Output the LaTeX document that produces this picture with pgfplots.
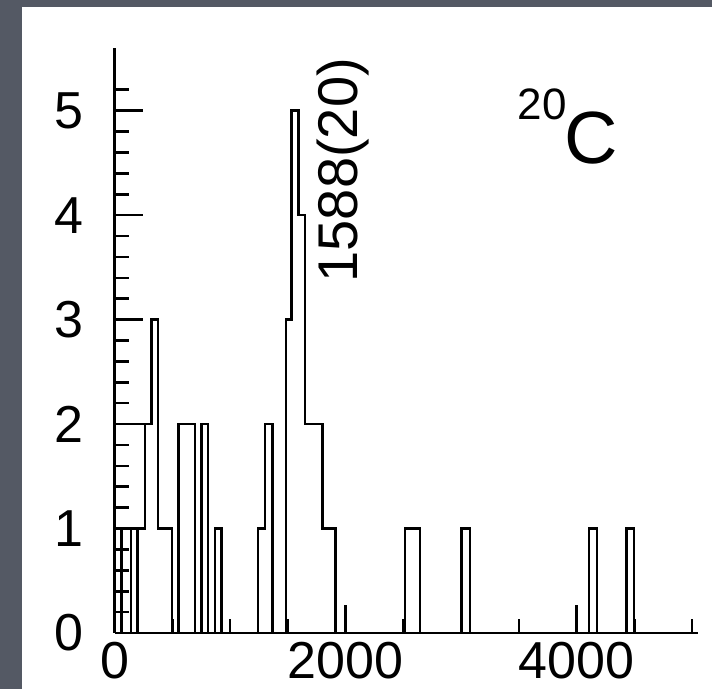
\documentclass[border=0pt]{standalone}
\usepackage{fontspec}
\setmainfont{Liberation Sans}
\usepackage{pgfplots}
\pgfplotsset{compat=1.18}
\definecolor{slate}{RGB}{84,89,100}
\begin{document}
\begin{tikzpicture}
\useasboundingbox (0,0) rectangle (356pt,344.5pt);
\fill[slate] (0,0) rectangle (356pt,344.5pt);
\fill[white] (11pt,0) rectangle (356pt,341pt);
\begin{axis}[
  at={(57.35pt,28pt)}, anchor=south west,
  width=291.6pt, height=292.5pt, scale only axis,
  xmin=0, xmax=5050, ymin=0, ymax=5.6,
  axis x line*=bottom, axis y line*=left,
  axis line style={line width=1.3pt, -},
  xtick={0,2000,4000},
  minor xtick={500,1000,1500,2500,3000,3500,4500,5000},
  ytick={0,1,2,3,4,5},
  minor ytick={0.2,0.4,0.6,0.8,1.2,1.4,1.6,1.8,2.2,2.4,2.6,2.8,3.2,3.4,3.6,3.8,4.2,4.4,4.6,4.8,5.2},
  tick align=inside,
  major tick length=14pt, minor tick length=7pt,
  tick style={line width=1.3pt, black},
  /pgf/number format/1000 sep={},
  /pgf/number format/assume math mode=true,
  ticklabel style={font=\fontsize{26}{28}\selectfont, inner sep=0pt},
  yticklabel style={anchor=east, xshift=-15.3pt},
  xticklabel style={anchor=north, yshift=-4.5pt},
  clip=false,
]
\addplot[const plot, line width=1.25pt, black, line join=miter] coordinates {
(0,2) (320,3) (377,1) (494,0) (551,2) (695,0) (753,2) (810,0) (868,1) (926,0)
(1243,1) (1301,2) (1368,0) (1483,3) (1532,5) (1590,4) (1647,2) (1799,1) (1912,0)
(2513,1) (2643,0) (3004,1) (3076,0) (4109,1) (4178,0) (4433,1) (4496,0) (4497,0)
};
\addplot[const plot, line width=1.25pt, black, line join=miter] coordinates {
(0,1) (61,0) (62,1) (141,0) (142,1) (198,0) (199,1) (262,2) (320,2)
};
\node[rotate=90, font=\fontsize{28}{28}\selectfont] at (axis cs:1975,4.43) {1588(20)};
\node[font=\fontsize{37}{37}\selectfont] at (axis cs:4124,4.74) {C};
\node[font=\fontsize{22}{22}\selectfont] at (axis cs:3701,5.06) {20};
\end{axis}
\end{tikzpicture}
\end{document}
